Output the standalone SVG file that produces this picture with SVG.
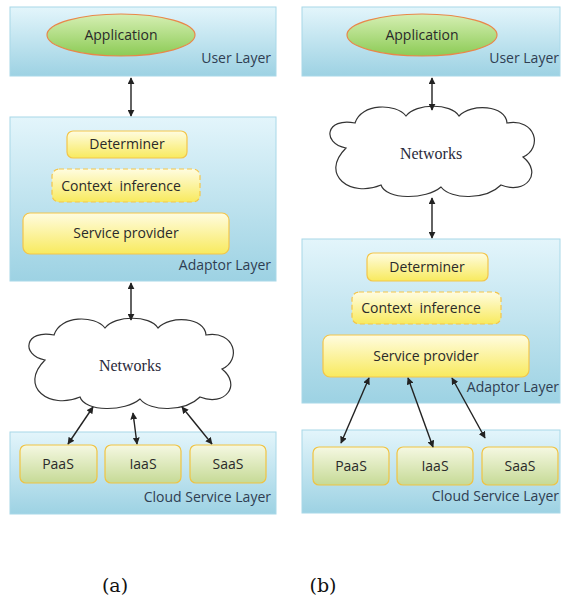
<svg xmlns="http://www.w3.org/2000/svg" width="561" height="599" viewBox="0 0 561 599">
<defs>
<linearGradient id="gLayer" x1="0" y1="0" x2="0" y2="1"><stop offset="0" stop-color="#e3f5fb"/><stop offset="1" stop-color="#9dd2e3"/></linearGradient>
<linearGradient id="gApp" x1="0" y1="0" x2="0" y2="1"><stop offset="0" stop-color="#d6efb4"/><stop offset="1" stop-color="#8ccb55"/></linearGradient>
<linearGradient id="gYel" x1="0" y1="0" x2="0" y2="1"><stop offset="0" stop-color="#fffce0"/><stop offset="1" stop-color="#f8ea5e"/></linearGradient>
<linearGradient id="gSvc" x1="0" y1="0" x2="0" y2="1"><stop offset="0" stop-color="#f5f8e2"/><stop offset="1" stop-color="#c6da96"/></linearGradient>
<marker id="ah" viewBox="0 0 10 10" refX="9" refY="5" markerWidth="7" markerHeight="7" orient="auto-start-reverse" markerUnits="userSpaceOnUse"><path d="M0,0 L10,5 L0,10 z" fill="#222"/></marker>
<path id="cloud" d="M -85,-5 C -110,-10 -105,-36 -76,-30 C -70,-50 -35,-50 -25,-37 C -15,-50 20,-50 28,-37 C 40,-50 75,-48 76,-30 C 105,-35 112,-5 92,4 C 112,20 95,42 70,32 C 55,47 20,47 10,34 C -5,47 -45,47 -50,32 C -80,45 -112,22 -85,-5 Z"/>
</defs>
<style>
.layer{fill:url(#gLayer);stroke:#a8d8e8;stroke-width:1}
.app{fill:url(#gApp);stroke:#e9874a;stroke-width:1.2}
.yel{fill:url(#gYel);stroke:#f3c54a;stroke-width:1.2}
.dash{stroke-dasharray:5 3}
.svc{fill:url(#gSvc);stroke:#f0c342;stroke-width:1.2}
.cl{fill:#fff;stroke:#333;stroke-width:1.2}
.t{font-family:"Open Sans","Liberation Sans",Arial,sans-serif;font-size:14px;fill:#2a2a2a;text-anchor:middle}
.lbl{font-family:"Open Sans","Liberation Sans",Arial,sans-serif;font-size:14px;fill:#2f3e52;text-anchor:end}
.net{font-family:"Liberation Serif","Times New Roman",serif;font-size:16px;fill:#2a2a3a;text-anchor:middle}
.cap{font-family:"DejaVu Serif","Liberation Serif",serif;font-size:19px;fill:#111;text-anchor:middle}
.arr{stroke:#222;stroke-width:1.4;fill:none;marker-start:url(#ah);marker-end:url(#ah)}
</style>

<!-- Panel (a) -->
<g id="a-user-layer"><rect class="layer" x="10" y="7" width="266" height="69"/><text class="lbl" x="271" y="63">User Layer</text></g>
<g id="a-application"><ellipse class="app" cx="121" cy="35" rx="74" ry="21"/><text class="t" x="121" y="40">Application</text></g>
<g id="a-adaptor-layer"><rect class="layer" x="10" y="117" width="266" height="164"/><text class="lbl" x="271" y="270">Adaptor Layer</text></g>
<g id="a-determiner"><rect class="yel" x="67" y="131" width="120" height="27" rx="6"/><text class="t" x="127" y="149">Determiner</text></g>
<g id="a-context"><rect class="yel dash" x="52" y="169" width="148" height="33" rx="7"/><text class="t" x="121" y="191" xml:space="preserve">Context  inference</text></g>
<g id="a-service-provider"><rect class="yel" x="23" y="213" width="206" height="41" rx="7"/><text class="t" x="126" y="238">Service provider</text></g>
<g id="a-networks"><use href="#cloud" class="cl" transform="translate(130,365)"/><text class="net" x="130" y="371">Networks</text></g>
<g id="a-cloud-layer"><rect class="layer" x="10" y="432" width="266" height="82"/><text class="lbl" x="271" y="502">Cloud Service Layer</text></g>
<g id="a-paas"><rect class="svc" x="20" y="445" width="77" height="38" rx="6"/><text class="t" x="58" y="469">PaaS</text></g>
<g id="a-iaas"><rect class="svc" x="105" y="445" width="76" height="38" rx="6"/><text class="t" x="143" y="469">IaaS</text></g>
<g id="a-saas"><rect class="svc" x="190" y="445" width="76" height="38" rx="6"/><text class="t" x="228" y="469">SaaS</text></g>

<!-- Panel (b) -->
<g id="b-user-layer"><rect class="layer" x="302" y="7" width="258" height="69"/><text class="lbl" x="559" y="63">User Layer</text></g>
<g id="b-application"><ellipse class="app" cx="422" cy="35" rx="75" ry="21"/><text class="t" x="422" y="40">Application</text></g>
<g id="b-networks"><use href="#cloud" class="cl" transform="translate(431,153)"/><text class="net" x="431" y="159">Networks</text></g>
<g id="b-adaptor-layer"><rect class="layer" x="302" y="239" width="258" height="164"/><text class="lbl" x="559" y="392">Adaptor Layer</text></g>
<g id="b-determiner"><rect class="yel" x="367" y="253" width="121" height="28" rx="6"/><text class="t" x="427" y="272">Determiner</text></g>
<g id="b-context"><rect class="yel dash" x="352" y="292" width="149" height="32" rx="7"/><text class="t" x="421" y="313" xml:space="preserve">Context  inference</text></g>
<g id="b-service-provider"><rect class="yel" x="323" y="335" width="206" height="42" rx="7"/><text class="t" x="426" y="361">Service provider</text></g>
<g id="b-cloud-layer"><rect class="layer" x="302" y="430" width="258" height="83"/><text class="lbl" x="559" y="501">Cloud Service Layer</text></g>
<g id="b-paas"><rect class="svc" x="313" y="447" width="76" height="38" rx="6"/><text class="t" x="351" y="471">PaaS</text></g>
<g id="b-iaas"><rect class="svc" x="397" y="447" width="76" height="38" rx="6"/><text class="t" x="435" y="471">IaaS</text></g>
<g id="b-saas"><rect class="svc" x="482" y="447" width="76" height="38" rx="6"/><text class="t" x="520" y="471">SaaS</text></g>

<g id="connectors">
<line class="arr" x1="131" y1="78" x2="131" y2="116"/>
<line class="arr" x1="131" y1="283" x2="131" y2="320"/>
<line class="arr" x1="93" y1="407" x2="68" y2="444"/>
<line class="arr" x1="133" y1="413" x2="137" y2="444"/>
<line class="arr" x1="182" y1="407" x2="212" y2="444"/>
<line class="arr" x1="432" y1="78" x2="432" y2="110"/>
<line class="arr" x1="432" y1="198" x2="432" y2="238"/>
<line class="arr" x1="369" y1="378" x2="341" y2="443"/>
<line class="arr" x1="408" y1="378" x2="433" y2="447"/>
<line class="arr" x1="452" y1="378" x2="485" y2="438"/>
</g>

<g id="captions"><text class="cap" x="115" y="592">(a)</text><text class="cap" x="323" y="592">(b)</text></g>
</svg>
